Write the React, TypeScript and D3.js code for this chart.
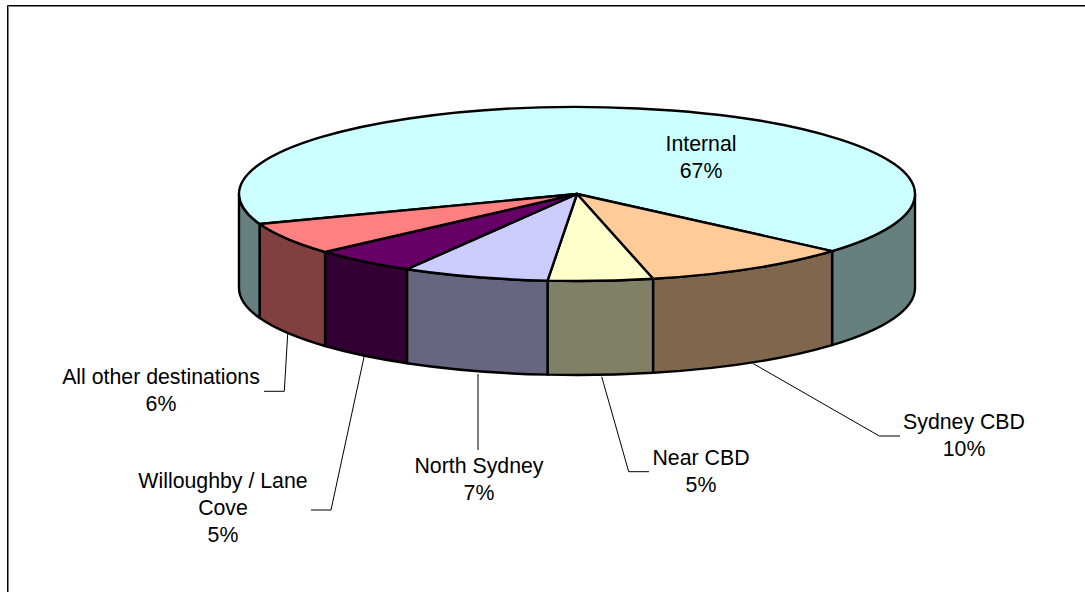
import React from "react";
import * as d3 from "d3";

const categories = ["Internal", "Sydney CBD", "Near CBD", "North Sydney", "Willoughby / Lane Cove", "All other destinations"];
const values = [67, 10, 5, 7, 5, 6];
const topColors = ["#CCFFFF", "#FFCC99", "#FFFFCC", "#CCCCFF", "#660066", "#FF8080"];
const sideColors = ["#668080", "#80664D", "#808066", "#666680", "#330033", "#804040"];
const labelLines = [["Internal", "67%"], ["Sydney CBD", "10%"], ["Near CBD", "5%"], ["North Sydney", "7%"], ["Willoughby / Lane", "Cove", "5%"], ["All other destinations", "6%"]];
const labelAnchors: [number, number][] = [[701, 151], [964, 429], [701, 465], [479, 473], [223, 488], [161, 384]];
const leaders: [number, number][][] = [
  [],
  [[752.7, 363.3], [879.3, 436], [900, 436]],
  [[601.7, 376.7], [628.7, 471.7], [649, 471.7]],
  [[478, 374], [478, 450], [478, 450]],
  [[364, 357], [331, 510], [311, 510]],
  [[287.7, 334], [284.3, 391.3], [264, 391.3]],
];

const W = 1085, H = 592;
const cx = 577, cy = 194, rx = 338, ry = 87, depth = 94;
const START = (249.8 * Math.PI) / 180;

const px = (t: number) => cx + rx * Math.sin(t);
const py = (t: number) => cy - ry * Math.cos(t);

function topPath(a0: number, a1: number) {
  const large = a1 - a0 > Math.PI ? 1 : 0;
  return `M${cx},${cy}L${px(a0)},${py(a0)}A${rx},${ry} 0 ${large} 1 ${px(a1)},${py(a1)}Z`;
}

function sidePath(a0: number, a1: number) {
  const large = a1 - a0 > Math.PI ? 1 : 0;
  return `M${px(a0)},${py(a0)}A${rx},${ry} 0 ${large} 1 ${px(a1)},${py(a1)}L${px(a1)},${py(a1) + depth}A${rx},${ry} 0 ${large} 0 ${px(a0)},${py(a0) + depth}Z`;
}

// parts of an arc that lie on the visible (front) half of the rim
function frontRanges(a0: number, a1: number): [number, number][] {
  const out: [number, number][] = [];
  for (let k = 0; k < 2; k++) {
    const lo = Math.PI / 2 + k * 2 * Math.PI;
    const hi = (3 * Math.PI) / 2 + k * 2 * Math.PI;
    const s = Math.max(a0, lo), e = Math.min(a1, hi);
    if (e > s) out.push([s, e]);
  }
  return out;
}

export default function App() {
  const arcs = d3
    .pie<number>()
    .sort(null)
    .value((d) => d)
    .startAngle(START)
    .endAngle(START + 2 * Math.PI)(values);
  const leaderLine = d3.line();
  const font = "'Liberation Sans', Arial, sans-serif";
  return (
    <svg width={W} height={H} viewBox={`0 0 ${W} ${H}`} style={{ position: "absolute", left: 0, top: 0, display: "block", background: "#fff" }}>
      <path d={`M8.5,${H + 2}V6.5H${W + 2}`} fill="none" stroke="#808080" strokeWidth={1} />
      <path d={`M7.5,${H + 2}V5.5H${W + 2}`} fill="none" stroke="#000" strokeWidth={1} />
      {arcs.map((a, i) =>
        frontRanges(a.startAngle, a.endAngle).map(([s, e], j) => (
          <path key={`s${i}-${j}`} d={sidePath(s, e)} fill={sideColors[i]} stroke="#000" strokeWidth={2.4} strokeLinejoin="round" />
        ))
      )}
      {arcs.map((a, i) => (
        <path key={categories[i]} d={topPath(a.startAngle, a.endAngle)} fill={topColors[i]} stroke="#000" strokeWidth={2.4} strokeLinejoin="round" />
      ))}
      {leaders.map((l, i) =>
        l.length ? <path key={`l${i}`} d={leaderLine(l) ?? ""} fill="none" stroke="#000" strokeWidth={1} /> : null
      )}
      {labelLines.map((lines, i) => (
        <text key={`t${i}`} fontFamily={font} fontSize={21.3} fill="#000" textAnchor="middle">
          {lines.map((s, j) => (
            <tspan key={j} x={labelAnchors[i][0]} y={labelAnchors[i][1] + j * 27}>{s}</tspan>
          ))}
        </text>
      ))}
    </svg>
  );
}
